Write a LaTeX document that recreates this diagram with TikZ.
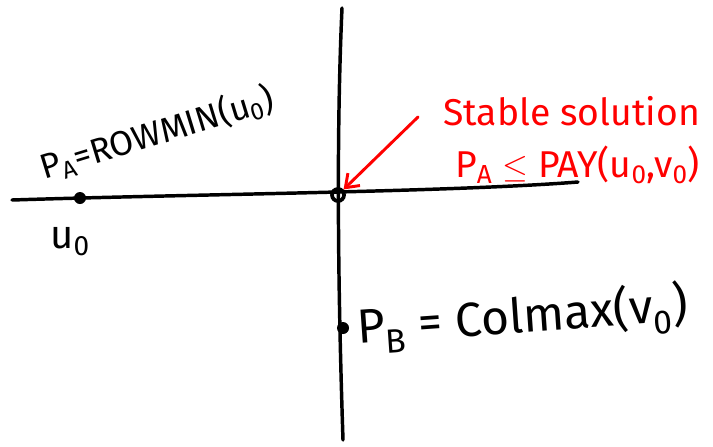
\documentclass[tikz,border=0pt]{standalone}
\usepackage{fontspec}
\setmainfont{Fira Sans}
\usetikzlibrary{arrows.meta}
\begin{document}
\begin{tikzpicture}[x=0.75pt,y=-0.75pt,
  stroke/.style={line width=2.6pt, line cap=round, black},
  hand/.style={font=\fontsize{26}{28}\selectfont, inner sep=0pt},
  redhand/.style={red, font=\fontsize{28}{30}\selectfont, inner sep=0pt},
  dotmark/.style={circle, fill=black, inner sep=0pt, minimum size=9pt},
  redarrow/.style={red, line width=2.2pt, line cap=round, -{Straight Barb[length=9pt,width=13pt,line width=2.2pt]}}]
\useasboundingbox (0,0) rectangle (713,446);
% axes
\coordinate (hl) at (12,200);
\coordinate (hr) at (578,182);
\coordinate (vt) at (342,8);
\coordinate (vb) at (343,440);
\draw[stroke] (hl) .. controls (200,194) and (450,192) .. (hr);
\draw[stroke] (vt) .. controls (337,120) and (337,260) .. (vb);
% points
\node[dotmark] (u0dot) at (80,198) {};
\node[circle, draw=black, line width=2.8pt, inner sep=0pt, minimum size=9pt] (origin) at (338,195) {};
\node[dotmark] (pbdot) at (343,328) {};
% labels
\node[hand, anchor=base west, rotate=17] (pa) at (44,180) {P\textsubscript{A}=ROWMIN(u\textsubscript{0})};
\node[hand, anchor=base west, font=\fontsize{30}{32}\selectfont] (u0) at (50,248) {u\textsubscript{0}};
\node[hand, anchor=base west, rotate=4, font=\fontsize{36}{38}\selectfont] (pb) at (358,344) {P\textsubscript{B} = Colmax(v\textsubscript{0})};
% red annotation
\node[redhand, anchor=base west] (stable) at (443,125) {Stable solution};
\node[redhand, anchor=base west] (ineq) at (455,177) {P\textsubscript{A} $\leq$ PAY(u\textsubscript{0},v\textsubscript{0})};
\coordinate (arrstart) at (418,117);
\draw[redarrow] (arrstart) -- (origin.north east);
\end{tikzpicture}
\end{document}
